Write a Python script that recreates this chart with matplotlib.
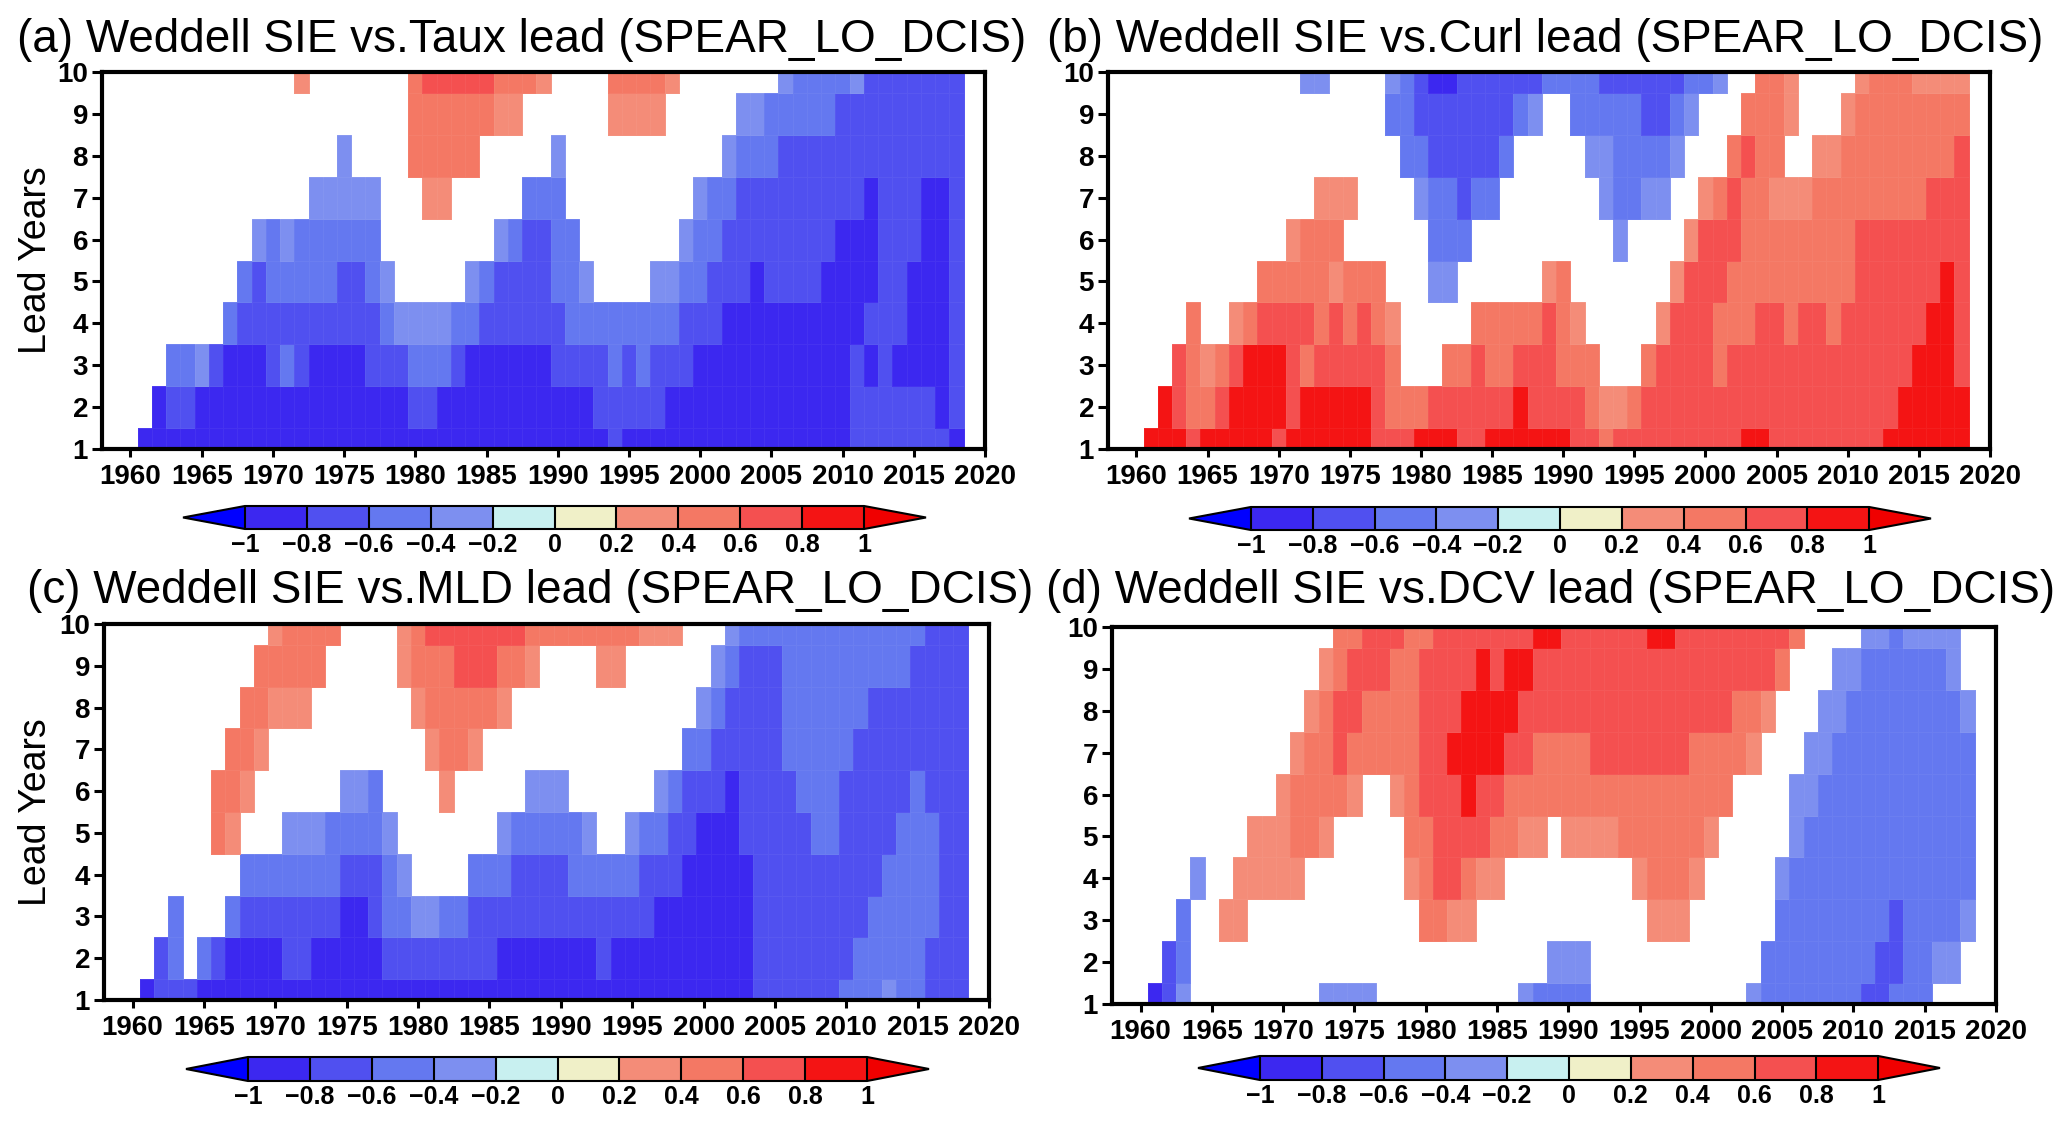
import numpy as np
import matplotlib
matplotlib.use('Agg')
import matplotlib.pyplot as plt
from matplotlib.colors import ListedColormap, BoundaryNorm

plt.rcParams['font.family'] = ['Liberation Sans', 'DejaVu Sans']

# one string per lead year (1 to 10), one char per start year 1961-2018
# 1-4 = blue classes (-1..-0.2), 5-8 = red classes (0.2..1), . = not significant
taux = [
    '11111 11111 11111 11111 11111 11111 11121 11111 11111 11111 22222 221',
    '.1221 11111 11111 11112 21111 11111 11222 22111 11111 11111 22222 212',
    '..334 21112 32111 12223 33211 11112 22232 32221 11111 11111 21211 112',
    '..... .3222 22222 22344 44332 22222 33333 33322 21111 11111 12221 112',
    '..... ..323 33332 234.. ...43 22223 34... .4433 22212 22211 11221 112',
    '..... ...43 43333 33... ..... 43223 3.... ...43 32222 22221 11222 112',
    '..... ..... ..444 44... 55... ..333 ..... ....4 33222 22222 21222 112',
    '..... ..... ....4 ....6 6666. ....4 ..... ..... .4333 22222 22222 222',
    '..... ..... ..... ....6 66666 55... ...55 55... ..443 33332 22222 222',
    '..... ..... .5... ....6 77777 6665. ...66 665.. ..... 43333 42222 222',
]
curl = [
    '88878 88887 88888 87778 88778 88888 77677 77777 77887 77777 77888 888',
    '.8766 78888 78888 87666 77777 78777 76556 77777 77777 77777 77788 888',
    '..765 67888 76777 776.. .6676 67776 66... 67777 67777 77777 77778 887',
    '...6. .5677 77676 765.. ...66 66676 5.... .5777 66677 67767 77777 887',
    '..... ...66 66656 66... 44... ...56 ..... ..577 76666 66666 77777 787',
    '..... ..... 5666. ..... 333.. ..... ...4. ...57 77666 66666 77777 777',
    '..... ..... ..555 ....4 33233 ..... ..433 44..5 67665 55666 66666 777',
    '..... ..... ..... ...33 22222 3.... .4433 334.. .6766 ..556 66666 667',
    '..... ..... ..... ..332 22222 234.. 33333 2234. ..666 5...5 66666 666',
    '..... ..... .44.. ..432 11222 22233 33222 22233 4..66 5.... 56665 555',
]
mld = [
    '12221 11111 11111 11111 11111 11111 11111 11111 11122 22223 33433 222',
    '.23.3 21111 22111 11222 22222 11111 11211 11111 11122 22222 33333 222',
    '..3.. .3222 22221 12334 43322 22222 22222 21111 11122 22222 23333 322',
    '..... ..333 33332 2234. ...33 32222 33333 22211 11122 22222 22333 322',
    '..... 65... 44433 334.. ..... 43333 34..4 33221 11222 22332 22233 322',
    '..... 665.. ....4 43... .5... ..444 ..... .4322 21222 23332 22223 222',
    '..... .665. ..... ..... 5665. ..... ..... ...33 22222 33333 22222 222',
    '..... ..665 55... ....5 66666 5.... ..... ....4 32222 33333 32222 222',
    '..... ...66 666.. ...56 66777 665.. ..55. ..... 43222 33333 33332 222',
    '..... ....5 6666. ...56 77777 77666 66666 555.. .4333 33333 33333 222',
]
dcv = [
    '124.. ..... ..444 4.... ..... .4333 3.... ..... ..433 33333 22333 ...',
    '.23.. ..... ..... ..... ..... ...44 4.... ..... ...33 33333 32233 44.',
    '..3.. 55... ..... ....6 655.. ..... ..... 555.. ....3 33333 33233 334',
    '...4. .5555 5.... ...56 77655 ..... ....5 6665. ....4 33333 33333 333',
    '..... ..555 665.. ...66 77776 655.5 55566 66665 ..... 43333 33333 333',
    '..... ....5 66665 ..567 77877 66666 66666 66666 6.... 44333 33333 333',
    '..... ..... 56676 66667 78888 77666 67777 77766 665.. .4433 33333 333',
    '..... ..... .5677 66667 77888 87777 77777 77777 7665. ..443 33333 334',
    '..... ..... ..567 77667 77787 88777 77777 77777 77776 ...44 33333 34.',
    '..... ..... ...66 77766 77777 77887 77777 88777 77777 6.... 44344 44.',
]

class_values = {'1': -0.9, '2': -0.7, '3': -0.5, '4': -0.3,
                '5': 0.3, '6': 0.5, '7': 0.7, '8': 0.9, '.': np.nan}
years = np.arange(1961, 2019)
leads = np.arange(1, 11)
levels = [-1, -0.8, -0.6, -0.4, -0.2, 0, 0.2, 0.4, 0.6, 0.8, 1]
level_labels = ['\u22121', '\u22120.8', '\u22120.6', '\u22120.4', '\u22120.2',
                '0', '0.2', '0.4', '0.6', '0.8', '1']
colors = ['#3C28F0', '#5050F0', '#6478F0', '#7D8FF0', '#C8F0F0',
          '#F0F0C8', '#F48C78', '#F47864', '#F45050', '#F41414']

titles = ['(a) Weddell SIE vs.Taux lead (SPEAR_LO_DCIS)',
          '(b) Weddell SIE vs.Curl lead (SPEAR_LO_DCIS)',
          '(c) Weddell SIE vs.MLD lead (SPEAR_LO_DCIS)',
          '(d) Weddell SIE vs.DCV lead (SPEAR_LO_DCIS)']
# pixel boxes in the 2067x1121 picture: axes (l, t, r, b), colorbar tip to tip, title x, baseline y
ax_boxes = [(102, 72, 985, 449), (1108, 72, 1990, 449), (104, 624, 989, 1000), (1112, 627, 1996, 1004)]
cb_boxes = [(183, 506, 926, 529), (1189, 507, 1931, 530), (186, 1057, 929, 1081), (1198, 1056, 1940, 1080)]
title_pos = [(17, 52), (1047, 52), (27, 603), (1046, 603)]

W, H = 2067, 1121
cmap = ListedColormap(colors[:])
cmap.set_under('#0000FF')
cmap.set_over('#F00000')
norm = BoundaryNorm(levels, cmap.N)


def to_grid(rows):
    return np.array([[class_values[c] for c in r.replace(' ', '')] for r in rows])


def box(b):
    return [b[0] / W, 1 - b[3] / H, (b[2] - b[0]) / W, (b[3] - b[1]) / H]


fig = plt.figure(figsize=(W / 100, H / 100), dpi=100)

for i, rows in enumerate([taux, curl, mld, dcv]):
    ax = fig.add_axes(box(ax_boxes[i]))
    xe = np.append(years - 0.5, years[-1] + 0.5)
    ye = np.append(leads - 0.5, leads[-1] + 0.5)
    # the faint lighter lines between cells
    pc = ax.pcolormesh(xe, ye, to_grid(rows), cmap=cmap, norm=norm,
                       edgecolors=(1, 1, 1, 0.05), linewidth=0.4)
    ax.set_xlim(1958, 2020)
    ax.set_ylim(1, 10)
    ax.set_xticks(np.arange(1960, 2021, 5))
    ax.set_yticks(leads)
    ax.tick_params(axis='x', length=6, width=2.2, pad=5, labelsize=20)
    ax.tick_params(axis='y', length=7, width=2.2, pad=3, labelsize=20)
    for lab in ax.get_xticklabels() + ax.get_yticklabels():
        lab.set_fontweight('bold')
    for s in ax.spines.values():
        s.set_linewidth(3)
    if i in (0, 2):
        ax.set_ylabel('Lead Years', fontsize=27)
        ax.yaxis.set_label_coords((54 - ax_boxes[i][0]) / (ax_boxes[i][2] - ax_boxes[i][0]), 0.5)
    fig.text(title_pos[i][0] / W, 1 - title_pos[i][1] / H, titles[i], fontsize=33, va='baseline', ha='left')

    cax = fig.add_axes(box(cb_boxes[i]))
    cb = fig.colorbar(pc, cax=cax, orientation='horizontal', extend='both', extendfrac=0.1,
                      drawedges=True, ticks=levels)
    cb.set_ticklabels(level_labels)
    cb.ax.tick_params(length=0, pad=3, labelsize=18)
    for lab in cb.ax.get_xticklabels():
        lab.set_fontweight('bold')
    cb.outline.set_linewidth(1.5)
    cb.dividers.set_linewidth(1.5)

fig.savefig('out.png', dpi=100)
